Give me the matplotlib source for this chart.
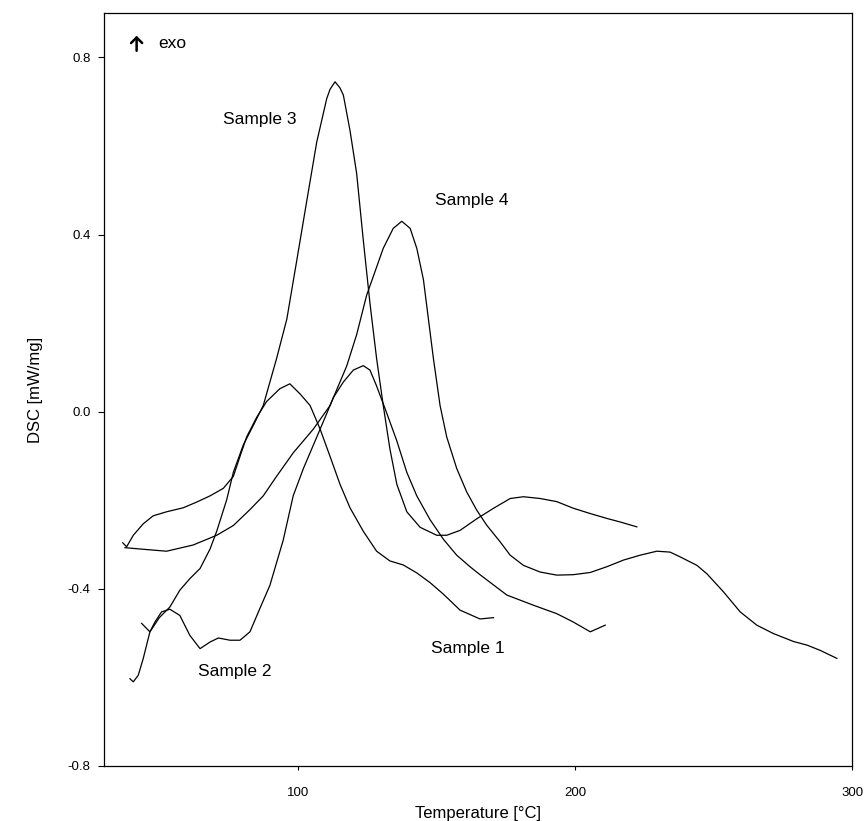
import matplotlib
matplotlib.use('Agg')
import matplotlib.pyplot as plt

plt.rcParams['font.family'] = ['Liberation Sans', 'DejaVu Sans']

# DSC curves (temperature in C, DSC in mW/mg)
s3_t = [39.4, 40.6, 42.4, 44.2, 46.6, 50.0, 53.8, 57.4, 61.0, 64.7, 68.3, 70.7, 74.3, 76.7, 80.3,
        83.9, 87.5, 92.3, 96.0, 99.6, 103.2, 106.8, 110.4, 111.6, 113.4, 115.2, 116.4, 118.8, 121.2,
        123.6, 126.0, 128.4, 130.8, 133.2, 135.7, 139.3, 144.1, 150.1, 153.7, 158.5, 164.5, 170.6,
        176.6, 181.4, 187.4, 193.4, 199.4, 205.5, 211.5, 216.3, 222.3]
s3_dsc = [-0.603, -0.610, -0.595, -0.557, -0.497, -0.465, -0.441, -0.403, -0.377, -0.354, -0.31,
          -0.27, -0.199, -0.137, -0.075, -0.031, 0.014, 0.12, 0.209, 0.342, 0.476, 0.609, 0.707,
          0.728, 0.745, 0.731, 0.715, 0.635, 0.538, 0.387, 0.245, 0.12, 0.014, -0.084, -0.164,
          -0.226, -0.261, -0.279, -0.279, -0.268, -0.242, -0.218, -0.196, -0.192, -0.196, -0.203,
          -0.218, -0.230, -0.241, -0.249, -0.260]

s2_t = [43.6, 46.6, 48.4, 50.8, 53.8, 57.4, 61.0, 64.7, 68.3, 71.3, 75.5, 79.1, 82.7, 86.3, 89.9,
        94.7, 98.3, 102.0, 105.6, 109.2, 112.8, 116.4, 120.0, 123.6, 126.0, 128.4, 132.1, 135.7,
        139.3, 142.9, 147.7, 152.5, 157.3, 162.1, 165.7, 175.4, 185.0, 193.4, 199.4, 205.5, 210.9]
s2_dsc = [-0.478, -0.497, -0.475, -0.452, -0.446, -0.46, -0.505, -0.535, -0.52, -0.511, -0.516,
          -0.516, -0.497, -0.444, -0.392, -0.29, -0.19, -0.128, -0.075, -0.022, 0.032, 0.067,
          0.094, 0.104, 0.094, 0.058, -0.004, -0.066, -0.137, -0.19, -0.244, -0.288, -0.324,
          -0.35, -0.368, -0.414, -0.437, -0.456, -0.475, -0.497, -0.482]

s1_t = [36.8, 38.2, 40.6, 44.2, 47.8, 52.6, 58.6, 63.5, 68.3, 73.1, 76.7, 79.1, 81.5, 85.1, 88.7,
        93.5, 97.1, 100.8, 104.4, 108.0, 111.6, 115.2, 118.8, 123.6, 128.4, 133.2, 138.0, 142.9,
        147.7, 152.5, 158.5, 165.7, 170.6]
s1_dsc = [-0.296, -0.305, -0.279, -0.253, -0.235, -0.226, -0.217, -0.204, -0.19, -0.173, -0.146,
          -0.101, -0.057, -0.013, 0.023, 0.052, 0.063, 0.04, 0.014, -0.039, -0.101, -0.164,
          -0.217, -0.27, -0.315, -0.337, -0.346, -0.364, -0.386, -0.412, -0.448, -0.468, -0.465]

s4_t = [37.6, 43.0, 52.6, 62.2, 70.7, 76.7, 82.7, 87.5, 92.3, 98.3, 105.6, 111.6, 117.6, 121.2,
        124.8, 130.8, 134.4, 137.5, 140.5, 142.9, 145.3, 147.1, 148.9, 151.3, 153.7, 157.3, 160.9,
        164.5, 168.1, 173.0, 176.6, 181.4, 187.4, 193.4, 199.4, 205.5, 211.5, 217.5, 223.5, 229.5,
        234.3, 238.0, 244.0, 247.6, 253.6, 259.6, 265.6, 271.6, 278.9, 283.7, 288.5, 294.5]
s4_dsc = [-0.307, -0.310, -0.315, -0.301, -0.279, -0.257, -0.221, -0.19, -0.146, -0.093, -0.039,
          0.014, 0.103, 0.174, 0.263, 0.369, 0.414, 0.43, 0.414, 0.369, 0.298, 0.209, 0.12, 0.014,
          -0.057, -0.128, -0.181, -0.222, -0.256, -0.294, -0.324, -0.347, -0.362, -0.369, -0.368,
          -0.363, -0.350, -0.335, -0.324, -0.315, -0.317, -0.328, -0.347, -0.366, -0.407, -0.452,
          -0.482, -0.501, -0.519, -0.527, -0.539, -0.557]

curve_labels = ['Sample 1', 'Sample 2', 'Sample 3', 'Sample 4']
label_t = [161.4, 77.3, 86.3, 162.7]
label_dsc = [-0.534, -0.587, 0.660, 0.478]

x_ticks = [100, 200, 300]
y_ticks = [-0.8, -0.4, 0.0, 0.4, 0.8]

fig = plt.figure(figsize=(8.66, 8.21), dpi=100)
ax = fig.add_axes([0.120, 0.067, 0.864, 0.917])

for t, d in [(s1_t, s1_dsc), (s2_t, s2_dsc), (s3_t, s3_dsc), (s4_t, s4_dsc)]:
    ax.plot(t, d, color='black', linewidth=0.9)

for name, t, d in zip(curve_labels, label_t, label_dsc):
    ax.text(t, d, name, ha='center', va='center', fontsize=12.5)

# "exo up" marker
ax.annotate('', xy=(41.8, 0.849), xytext=(41.8, 0.815),
            arrowprops=dict(arrowstyle='->,head_width=0.4,head_length=0.4', lw=1.8,
                            color='black', shrinkA=0, shrinkB=0))
ax.text(49.5, 0.832, 'exo', ha='left', va='center', fontsize=12.5)

ax.set_xlim(30, 300)
ax.set_ylim(-0.8, 0.9)
ax.set_xticks(x_ticks)
ax.set_xticklabels([str(v) for v in x_ticks])
ax.set_yticks(y_ticks)
ax.set_yticklabels(['%.1f' % v for v in y_ticks])
ax.tick_params(axis='x', direction='out', length=3, width=0.8, pad=12, labelsize=9.5)
ax.tick_params(axis='y', direction='out', length=4.5, width=0.8, pad=5, labelsize=9.5)
for sp in ax.spines.values():
    sp.set_linewidth(0.9)

ax.set_xlabel('Temperature [\u00b0C]', fontsize=12, labelpad=5)
ax.set_ylabel('DSC [mW/mg]', fontsize=12, labelpad=18)

fig.savefig('out.png', dpi=100)
